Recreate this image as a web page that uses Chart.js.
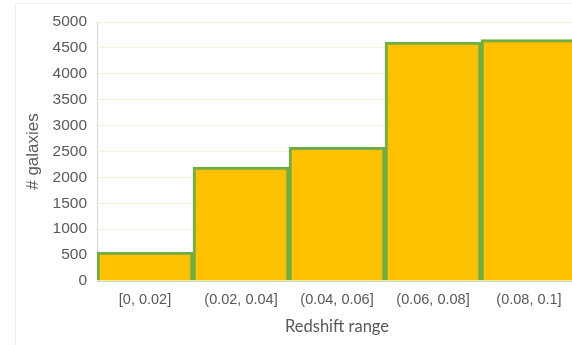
<!DOCTYPE html>
<html>
<head>
<meta charset="utf-8">
<script src="https://cdn.jsdelivr.net/npm/chart.js@4/dist/chart.umd.min.js"></script>
<style>
  html, body { margin: 0; padding: 0; background: #fff; overflow: hidden; width: 572px; height: 345px; }
  #frame { position: absolute; left: 15px; top: 3px; width: 600px; height: 360px; border-left: 1px solid #ececec; border-top: 1px solid #f2f2f2; }
  #wrap { position: absolute; left: 0; top: 0; width: 600px; height: 345px; }
</style>
</head>
<body>
<div id="frame"></div>
<div id="wrap"><canvas id="c" width="600" height="345"></canvas></div>
<script>
// Galaxy counts per redshift bin
const redshiftBins = ['[0, 0.02]', '(0.02, 0.04]', '(0.04, 0.06]', '(0.06, 0.08]', '(0.08, 0.1]'];
const galaxyCounts = [560, 2200, 2580, 4610, 4660];
const yTicks = [0, 500, 1000, 1500, 2000, 2500, 3000, 3500, 4000, 4500, 5000];

const tickFont = { family: 'Liberation Sans', size: 15.5 };

new Chart(document.getElementById('c'), {
  type: 'bar',
  data: {
    labels: redshiftBins,
    datasets: [{
      data: galaxyCounts,
      backgroundColor: '#FFC000',
      borderColor: '#70AD47',
      borderWidth: 3,
      barPercentage: 1,
      categoryPercentage: 1
    }]
  },
  options: {
    responsive: false,
    animation: false,
    devicePixelRatio: 1,
    layout: { padding: { left: 15, right: 23, top: 22, bottom: 0 } },
    plugins: { legend: { display: false }, tooltip: { enabled: false } },
    scales: {
      x: {
        grid: { display: false, drawTicks: false },
        border: { display: true, color: '#c9dcb8', width: 1 },
        ticks: { color: '#595959', font: { family: 'Liberation Sans', size: 14.5 }, padding: 10, maxRotation: 0 },
        title: { display: true, text: 'Redshift range', color: '#595959', font: { family: 'Lato', size: 16.5 }, padding: { top: 0, bottom: 8 } },
        afterFit: s => { s.height = 64; }
      },
      y: {
        min: 0,
        max: 5000,
        afterBuildTicks: s => { s.ticks = yTicks.map(v => ({ value: v })); },
        grid: { color: '#f4f2dc', drawTicks: false },
        border: { display: true, color: '#d9d9d9', width: 1 },
        ticks: { color: '#595959', font: tickFont, padding: 10, callback: v => String(v) },
        title: { display: true, text: '# galaxies', color: '#595959', font: { family: 'Liberation Sans', size: 17 }, padding: { top: 8, bottom: 0 } },
        afterFit: s => { s.width = 82; }
      }
    }
  }
});
</script>
</body>
</html>
